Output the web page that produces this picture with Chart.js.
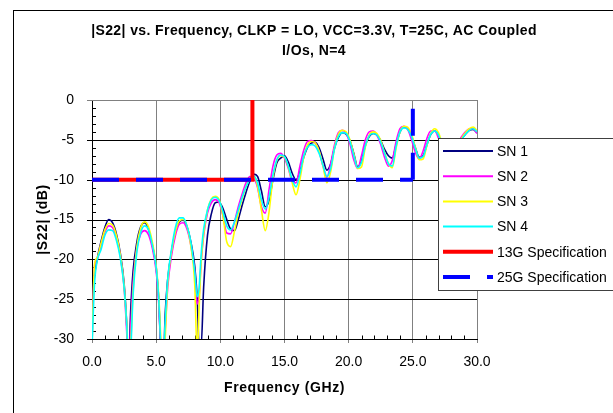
<!DOCTYPE html>
<html>
<head>
<meta charset="utf-8">
<script src="https://cdn.jsdelivr.net/npm/chart.js@4.4.1/dist/chart.umd.min.js"></script>
<style>
  html, body { margin: 0; padding: 0; background: #ffffff; }
  #wrap { width: 613px; height: 413px; position: relative; overflow: hidden; }
</style>
</head>
<body>
<div id="wrap"><canvas id="s22Chart" width="613" height="413"></canvas></div>
<script>
// frequency grid shared by the four measured parts (GHz)
const freqGHz = [
    0, 0.2, 0.4, 0.7, 1.0, 1.3, 1.6, 1.9, 2.2, 2.5,
    2.7, 2.85, 3.0, 3.2, 3.5, 3.8, 4.1, 4.4, 4.7, 5.0,
    5.2, 5.4, 5.55, 5.7, 5.9, 6.2, 6.5, 6.8, 7.1, 7.4,
    7.7, 8.0, 8.2, 8.35, 8.5, 8.7, 9.0, 9.3, 9.6, 9.9,
    10.2, 10.5, 10.8, 11.1, 11.4, 11.7, 12.0, 12.3, 12.6, 12.9,
    13.2, 13.5, 13.8, 14.1, 14.4, 14.7, 15.0, 15.3, 15.6, 15.9,
    16.2, 16.5, 16.8, 17.1, 17.4, 17.7, 18.0, 18.3, 18.6, 18.9,
    19.2, 19.5, 19.8, 20.1, 20.4, 20.7, 21.0, 21.3, 21.6, 21.9,
    22.2, 22.5, 22.8, 23.1, 23.4, 23.7, 24.0, 24.3, 24.6, 24.9,
    25.2, 25.5, 25.8, 26.1, 26.4, 26.7, 27.0, 27.3, 27.6, 27.9,
    28.2, 28.5, 28.8, 29.1, 29.4, 29.7, 30.0
];

const sn1Db = [
    -26, -22, -20, -17.8, -16, -15.0, -15.4, -16.8, -19.2, -23,
    -28, -34, -27, -21.5, -17.8, -15.9, -15.4, -16.2, -18.2, -21,
    -25, -33, -34, -27, -22.5, -19, -16.6, -15.3, -15.1, -15.9,
    -17.8, -20.8, -25, -31, -31, -23.5, -17.0, -14.3, -12.9, -12.8,
    -13.6, -15.0, -16.2, -16.4, -15.0, -13.2, -11.6, -10.2, -9.3, -9.6,
    -11.4, -13.4, -12.6, -10.0, -7.9, -7.3, -7.0, -7.8, -9.2, -10.0,
    -9.0, -7.2, -5.9, -5.4, -5.3, -6.0, -7.4, -8.8, -8.0, -6.0,
    -4.7, -4.1, -4.3, -5.1, -6.7, -8.4, -7.6, -5.7, -4.6, -4.2,
    -4.4, -5.1, -6.2, -7.0, -7.3, -5.6, -4.0, -3.4, -3.6, -4.5,
    -6.0, -7.2, -7.0, -5.6, -4.3, -3.9, -4.4, -5.8, -7.2, -8.0,
    -7.2, -5.9, -4.9, -4.3, -3.8, -3.7, -4.1
];

const sn2Db = [
    -30.5, -20.8, -20, -18.2, -16.6, -15.8, -16.0, -17.2, -19.5, -23.5,
    -29, -34, -29, -23, -18.6, -16.8, -16.4, -16.9, -18.6, -21.5,
    -25.5, -32, -33, -29, -23.5, -19.5, -17.0, -15.6, -15.4, -16.2,
    -18.2, -21.5, -25.6, -24.5, -20.5, -17.0, -14.2, -12.9, -12.5, -12.9,
    -14.5, -16.7, -16.8, -15.3, -13.4, -11.8, -10.4, -9.6, -9.8, -11.0,
    -13.4, -14.2, -11.2, -8.3, -6.9, -6.7, -7.3, -8.6, -10.2, -10.4,
    -8.3, -6.3, -5.2, -5.1, -5.4, -6.5, -8.3, -9.7, -8.0, -5.6,
    -4.1, -3.8, -4.2, -5.5, -7.5, -8.6, -7.0, -5.0, -4.0, -3.9,
    -4.4, -5.6, -7.2, -8.3, -7.6, -5.2, -3.6, -3.3, -3.7, -5.0,
    -6.6, -7.4, -6.4, -4.8, -3.9, -3.9, -4.8, -6.3, -7.6, -7.8,
    -6.6, -5.4, -4.6, -4.0, -3.6, -3.6, -4.2
];

const sn3Db = [
    -31, -20.6, -19.8, -18.0, -16.3, -15.5, -15.7, -17.0, -19.4, -23.3,
    -28, -32, -31, -24, -18.4, -16.0, -15.3, -15.9, -17.8, -20.8,
    -24.5, -31, -34, -30, -23, -19, -16.5, -15.2, -15.0, -15.8,
    -18.3, -23, -32, -26, -20.5, -16.8, -13.8, -12.4, -12.1, -12.5,
    -14.5, -17.8, -18.4, -16.5, -14.2, -12.4, -10.9, -9.9, -9.6, -10.8,
    -13.8, -16.4, -14.0, -9.8, -7.6, -7.0, -7.2, -8.4, -10.4, -11.9,
    -10.0, -7.2, -5.6, -5.2, -5.4, -6.4, -8.3, -10.4, -9.0, -6.0,
    -4.3, -3.8, -4.0, -5.0, -6.8, -8.6, -8.4, -5.9, -4.4, -4.0,
    -4.2, -5.1, -6.6, -8.0, -8.5, -6.0, -4.0, -3.3, -3.4, -4.3,
    -6.0, -7.5, -7.4, -5.7, -4.2, -3.6, -4.1, -5.6, -7.2, -8.2,
    -7.5, -6.0, -4.8, -4.1, -3.6, -3.4, -3.8
];

const sn4Db = [
    -31, -23, -20.2, -18.8, -17.0, -16.3, -16.4, -17.6, -19.8, -23.5,
    -28, -33, -32, -24.5, -19.0, -16.6, -15.8, -16.3, -18.2, -21.0,
    -25, -32, -33, -28, -22.5, -18.7, -16.0, -14.8, -14.8, -15.8,
    -17.8, -21.5, -24.7, -23.5, -19.5, -16.2, -13.8, -12.5, -12.2, -12.6,
    -14.0, -15.8, -16.3, -15.3, -13.8, -12.2, -10.9, -10.0, -9.5, -10.4,
    -12.5, -13.7, -12.2, -9.4, -7.5, -6.9, -7.1, -8.3, -10.0, -10.9,
    -9.3, -7.0, -5.9, -5.6, -5.8, -6.7, -8.2, -9.6, -8.6, -6.1,
    -4.6, -4.1, -4.2, -5.2, -7.0, -8.5, -7.8, -5.7, -4.5, -4.2,
    -4.4, -5.3, -6.7, -8.0, -8.3, -5.8, -4.0, -3.5, -3.7, -4.6,
    -6.1, -7.3, -7.1, -5.6, -4.3, -3.9, -4.4, -5.9, -7.4, -8.1,
    -7.3, -6.0, -5.0, -4.3, -3.8, -3.6, -4.0
];

// spec limit masks
const spec13Freq = [0, 12.5, 12.5];
const spec13Db = [-10, -10, 0];
const spec25Freq = [0, 25, 25];
const spec25Db = [-10, -10, -1];

const xTicks = [0, 5, 10, 15, 20, 25, 30];
const yTicks = [-30, -25, -20, -15, -10, -5, 0];

const titleLines = ['|S22| vs. Frequency, CLKP = LO, VCC=3.3V, T=25C, AC Coupled', 'I/Os, N=4'];
const xTitle = 'Frequency (GHz)';
const yTitle = '|S22| (dB)';

const FONT = '"Liberation Sans", Arial, sans-serif';
Chart.defaults.font.family = FONT;
Chart.defaults.color = '#000000';

function pts(xs, ys) {
    return xs.map((x, i) => ({ x: x, y: ys[i] }));
}

function curve(label, ys, color, order) {
    return {
        label: label,
        data: pts(freqGHz, ys),
        borderColor: color,
        backgroundColor: color,
        borderWidth: 1.6,
        pointRadius: 0,
        cubicInterpolationMode: 'monotone',
        fill: false,
        order: order
    };
}

const datasets = [
    curve('SN 1', sn1Db, '#000080', 6),
    curve('SN 2', sn2Db, '#ff00ff', 5),
    curve('SN 3', sn3Db, '#ffff00', 4),
    curve('SN 4', sn4Db, '#00ffff', 3),
    {
        label: '13G Specification',
        data: pts(spec13Freq, spec13Db),
        borderColor: '#ff0000',
        backgroundColor: '#ff0000',
        borderWidth: 4,
        pointRadius: 0,
        tension: 0,
        order: 2
    },
    {
        label: '25G Specification',
        data: pts(spec25Freq, spec25Db),
        borderColor: '#0000ff',
        backgroundColor: '#0000ff',
        borderWidth: 4,
        borderDash: [27, 17],
        // restart the dash pattern on the vertical leg, as the original does
        segment: { borderDashOffset: c => (c.p0DataIndex === 1 ? 0.001 : 0) },
        pointRadius: 0,
        tension: 0,
        order: 1
    }
];

// horizontal grid, outside major ticks and inside minor ticks
const plotGrid = {
    id: 'plotGrid',
    beforeDatasetsDraw(chart) {
        const c = chart.ctx;
        const xs = chart.scales.x, ys = chart.scales.y;
        const left = Math.round(xs.getPixelForValue(0));
        const right = Math.round(xs.getPixelForValue(30));
        const bottom = Math.round(ys.getPixelForValue(-30));
        c.save();
        c.lineWidth = 1;
        yTicks.forEach(v => {
            const py = Math.round(ys.getPixelForValue(v)) + 0.5;
            c.strokeStyle = v === 0 ? '#808080' : '#000000';
            c.beginPath();
            c.moveTo(left - 5, py);
            c.lineTo(right, py);
            c.stroke();
        });
        c.strokeStyle = '#000000';
        c.beginPath();
        for (let v = -29; v < 0; v++) {
            if (v % 5 === 0) continue;
            const py = Math.round(ys.getPixelForValue(v)) + 0.5;
            c.moveTo(left, py);
            c.lineTo(left + 4, py);
        }
        for (let v = 1; v < 30; v++) {
            if (v % 5 === 0) continue;
            const px = Math.round(xs.getPixelForValue(v)) + 0.5;
            c.moveTo(px, bottom + 0.5);
            c.lineTo(px, bottom - 3.5);
        }
        c.stroke();
        c.restore();
    }
};

// title, axis titles, frame and the legend box that sits over the plot
const decorations = {
    id: 'decorations',
    afterDraw(chart) {
        const c = chart.ctx;
        const xs = chart.scales.x, ys = chart.scales.y;
        c.save();

        c.strokeStyle = '#000000';
        c.lineWidth = 1;
        c.strokeRect(13.5, 10.5, 700, 500);

        c.fillStyle = '#000000';
        c.textAlign = 'center';
        c.textBaseline = 'middle';
        c.letterSpacing = '0.4px';
        c.font = 'bold 14px ' + FONT;
        c.fillText(titleLines[0], 314, 31);
        c.fillText(titleLines[1], 314, 51);

        c.letterSpacing = '0.6px';
        c.fillText(xTitle, (xs.getPixelForValue(0) + xs.getPixelForValue(30)) / 2, 388);
        c.save();
        c.translate(43, (ys.getPixelForValue(0) + ys.getPixelForValue(-30)) / 2);
        c.rotate(-Math.PI / 2);
        c.fillText(yTitle, 0, 0);
        c.restore();
        c.letterSpacing = '0px';

        // legend
        const lx = 438.5, ly = 138.5;
        c.fillStyle = '#ffffff';
        c.fillRect(lx, ly, 200, 152);
        c.strokeStyle = '#404040';
        c.strokeRect(lx, ly, 200, 152);
        c.font = '14px ' + FONT;
        c.textAlign = 'left';
        chart.data.datasets.forEach((ds, i) => {
            const y = 151 + i * 25.2;
            c.save();
            c.strokeStyle = ds.borderColor;
            c.lineWidth = ds.borderWidth >= 4 ? 4 : 2;
            c.setLineDash(ds.borderDash || []);
            c.beginPath();
            c.moveTo(443, y);
            c.lineTo(493, y);
            c.stroke();
            c.restore();
            c.fillStyle = '#000000';
            c.fillText(ds.label, 497, y + 1);
        });

        c.restore();
    }
};

const ctx = document.getElementById('s22Chart').getContext('2d');

new Chart(ctx, {
    type: 'line',
    data: { datasets: datasets },
    options: {
        responsive: false,
        animation: false,
        events: [],
        layout: { padding: { left: 0, top: 100, right: 136, bottom: 0 } },
        plugins: {
            legend: { display: false },
            title: { display: false },
            tooltip: { enabled: false }
        },
        scales: {
            x: {
                type: 'linear',
                min: 0,
                max: 30,
                afterFit(scale) { scale.height = 74; },
                afterBuildTicks(scale) { scale.ticks = xTicks.map(v => ({ value: v })); },
                ticks: {
                    font: { size: 14 },
                    padding: 11,
                    maxRotation: 0,
                    callback: v => v.toFixed(1)
                },
                grid: { color: '#808080', lineWidth: 1, tickLength: 4 },
                border: { color: '#000000', width: 1 }
            },
            y: {
                type: 'linear',
                min: -30,
                max: 0,
                afterFit(scale) { scale.width = 92; },
                afterBuildTicks(scale) { scale.ticks = yTicks.map(v => ({ value: v })); },
                ticks: {
                    font: { size: 14 },
                    padding: 10,
                    callback: v => String(v)
                },
                grid: { display: false },
                border: { display: true, color: '#000000', width: 1 }
            }
        }
    },
    plugins: [plotGrid, decorations]
});
</script>
</body>
</html>
